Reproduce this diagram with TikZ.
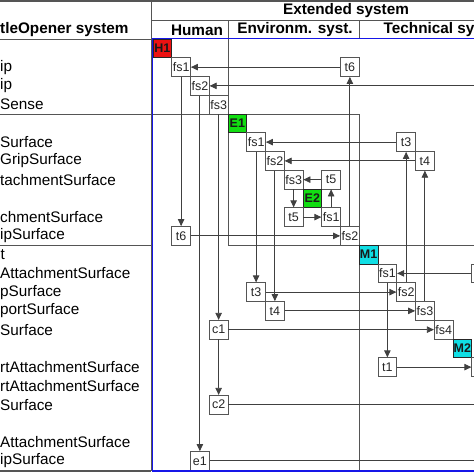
\documentclass[tikz,border=0pt]{standalone}
\usepackage{fontspec}
\setmainfont{Liberation Sans}
\usetikzlibrary{arrows.meta}

\definecolor{linegray}{RGB}{85,85,85}
\definecolor{hred}{RGB}{236,18,18}
\definecolor{egreen}{RGB}{18,222,18}
\definecolor{mcyan}{RGB}{16,222,228}
\definecolor{frameblue}{RGB}{22,22,232}

\tikzset{
  grid/.style={draw=linegray, line width=0.8pt},
  cell/.style={draw=linegray, line width=0.8pt, fill=white, minimum size=18.75pt, inner sep=0pt, text=black!85, font=\fontsize{12.5}{14}\selectfont},
  sysbox/.style={cell, draw=black!85, text=black!90, font=\bfseries\fontsize{12.5}{14}\selectfont},
  arr/.style={draw=black!75, line width=0.8pt, -{Triangle[length=7pt,width=6.5pt]}},
  line/.style={draw=black!75, line width=0.8pt},
  head/.style={font=\bfseries\fontsize{15.3}{18}\selectfont, inner sep=0pt},
  rowtext/.style={font=\fontsize{15.3}{18}\selectfont, anchor=west, inner sep=0pt}
}

\begin{document}
\begin{tikzpicture}[x=1pt,y=-1pt]
	\useasboundingbox (0,0) rectangle (474,474);
	\clip (0,0) rectangle (474,474);
	
	\draw[grid, line width=2pt] (0,1) -- (474,1);
	\draw[grid] (151,0) -- (151,471);
	\draw[grid] (151,20.5) -- (474,20.5);
	\draw[grid] (228,20.5) -- (228,39);
	\draw[grid] (359.25,20.5) -- (359.25,39);
	\draw[grid] (0,39) -- (151,39);
	\draw[grid] (0,114) -- (151,114);
	\draw[grid] (0,245.25) -- (151,245.25);
	\draw[grid, line width=1.5pt] (0,471) -- (151,471);
	
	\node[head] (ext) at (346,11) {Extended system};
	\node[head, anchor=west] (bos) at (0,30) {tleOpener system};
	\node[head] (hum) at (197,30) {Human};
	\node[head] (env) at (295,30) {Environm. syst.};
	\node[head, anchor=west] (tec) at (383.5,30) {Technical sy};
	
	\node[rowtext] (r1) at (0,67.1) {ip};
	\node[rowtext] (r2) at (0,85.9) {ip};
	\node[rowtext] (r3) at (0,104.6) {Sense};
	\node[rowtext] (r5) at (0,142.1) {Surface};
	\node[rowtext] (r6) at (0,160.9) {GripSurface};
	\node[rowtext] (r7) at (0,179.6) {tachmentSurface};
	\node[rowtext] (r9) at (0,217.1) {chmentSurface};
	\node[rowtext] (r10) at (0,235.9) {ipSurface};
	\node[rowtext] (r11) at (0.5,254.6) {t};
	\node[rowtext] (r12) at (0,273.4) {AttachmentSurface};
	\node[rowtext] (r13) at (0,292.1) {pSurface};
	\node[rowtext] (r14) at (0,310.9) {portSurface};
	\node[rowtext] (r15) at (0,329.6) {Surface};
	\node[rowtext] (r17) at (0,367.1) {rtAttachmentSurface};
	\node[rowtext] (r18) at (0,385.9) {rtAttachmentSurface};
	\node[rowtext] (r19) at (0,404.6) {Surface};
	\node[rowtext] (r21) at (0,442.1) {AttachmentSurface};
	\node[rowtext] (r22) at (0,460.9) {ipSurface};
	
	\begin{scope}[shift={(153pt,-39pt)}, x=18.75pt, y=-18.75pt]
	\draw[grid] (0,4) -- (4,4) -- (4,0);
	\draw[grid] (4,4) rectangle (11,11);
	\draw[grid] (11,23) -- (11,11) -- (18,11);
	
	\node[sysbox, fill=hred] (H1) at (0.5,0.5) {H1};
	\node[cell] (Hfs1) at (1.5,1.5) {fs1};
	\node[cell] (Hfs2) at (2.5,2.5) {fs2};
	\node[cell] (Hfs3) at (3.5,3.5) {fs3};
	\node[cell] (Ht6) at (10.5,1.5) {t6};
	
	\node[sysbox, fill=egreen] (E1) at (4.5,4.5) {E1};
	\node[cell] (Efs1) at (5.5,5.5) {fs1};
	\node[cell] (Efs2) at (6.5,6.5) {fs2};
	\node[cell] (Et3) at (13.5,5.5) {t3};
	\node[cell] (Et4) at (14.5,6.5) {t4};
	\node[cell] (Efs2b) at (10.5,10.5) {fs2};
	\node[cell] (Et6) at (1.5,10.5) {t6};
	
	\node[cell] (Zfs3) at (7.5,7.5) {fs3};
	\node[cell] (Zt5a) at (9.5,7.5) {t5};
	\node[sysbox, fill=egreen] (E2) at (8.5,8.5) {E2};
	\node[cell] (Zt5b) at (7.5,9.5) {t5};
	\node[cell] (Zfs1) at (9.5,9.5) {fs1};
	
	\node[sysbox, fill=mcyan] (M1) at (11.5,11.5) {M1};
	\node[cell] (Mfs1) at (12.5,12.5) {fs1};
	\node[cell] (Mfs2) at (13.5,13.5) {fs2};
	\node[cell] (Mfs3) at (14.5,14.5) {fs3};
	\node[cell] (Mfs4) at (15.5,15.5) {fs4};
	\node[sysbox, fill=mcyan] (M2) at (16.5,16.5) {M2};
	\node[cell] (Mt3) at (5.5,13.5) {t3};
	\node[cell] (Mt4) at (6.5,14.5) {t4};
	\node[cell] (Mt1) at (12.5,17.5) {t1};
	\node[cell] (Mc1) at (3.5,15.5) {c1};
	\node[cell] (Mc2) at (3.5,19.5) {c2};
	\node[cell] (Me1) at (2.5,22.5) {e1};
	\node[cell] (Xa) at (17.5,12.5) {};
	\node[cell] (Xb) at (17.5,17.5) {};
	
	\coordinate (Hin) at (18.5,2.5);
	\coordinate (c2out) at (18.5,19.5);
	\coordinate (e1out) at (18.5,22.5);
	
	\draw[arr] (Ht6) -- (Hfs1);
	\draw[arr] (Hin) -- (Hfs2);
	\draw[arr] (Hfs1) -- (Et6);
	\draw[arr] (Hfs2) -- (Me1);
	\draw[arr] (Hfs3) -- (Mc1);
	\draw[arr] (Mc1) -- (Mc2);
	\draw[arr] (Et6) -- (Efs2b);
	\draw[arr] (Efs2b) -- (Ht6);
	\draw[arr] (Et3) -- (Efs1);
	\draw[arr] (Et4) -- (Efs2);
	\draw[arr] (Efs1) -- (Mt3);
	\draw[arr] (Efs2) -- (Mt4);
	\draw[arr] (Mt3) -- (Mfs2);
	\draw[arr] (Mt4) -- (Mfs3);
	\draw[arr] (Mfs2) -- (Et3);
	\draw[arr] (Mfs3) -- (Et4);
	\draw[arr] (Zt5a) -- (Zfs3);
	\draw[arr] (Zfs3) -- (Zt5b);
	\draw[arr] (Zt5b) -- (Zfs1);
	\draw[arr] (Zfs1) -- (Zt5a);
	\draw[arr] (Xa) -- (Mfs1);
	\draw[arr] (Mfs1) -- (Mt1);
	\draw[arr] (Mt1) -- (Xb);
	\draw[arr] (Mc1) -- (Mfs4);
	\draw[line] (Mc2) -- (c2out);
	\draw[line] (Me1) -- (e1out);
	\end{scope}
	
	\draw[draw=frameblue, line width=1.8pt] (474,38.5) -- (152.5,38.5) -- (152.5,471) -- (474,471);
\end{tikzpicture}
\end{document}
